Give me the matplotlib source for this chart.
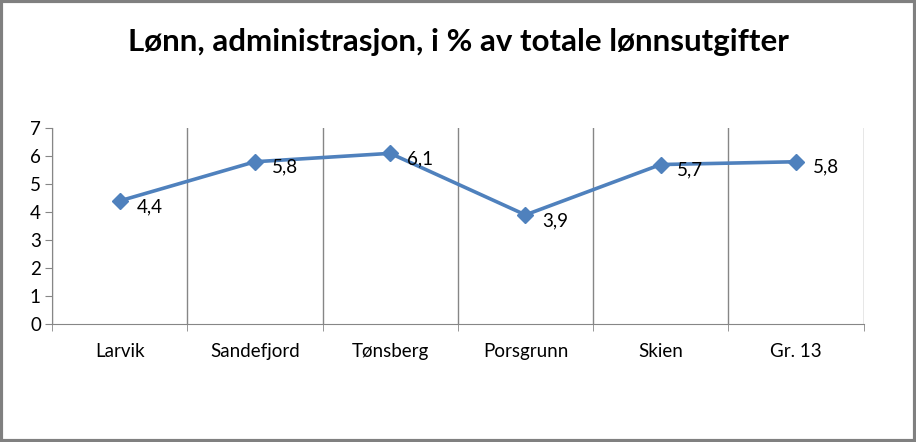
import numpy as np
import matplotlib.pyplot as plt
from matplotlib.patches import Rectangle

# data
kommuner = ["Larvik", "Sandefjord", "Tønsberg", "Porsgrunn", "Skien", "Gr. 13"]
andel = [4.4, 5.8, 6.1, 3.9, 5.7, 5.8]
tittel = "Lønn, administrasjon, i % av totale lønnsutgifter"

plt.rcParams['font.family'] = ['Lato', 'DejaVu Sans']

fig = plt.figure(figsize=(9.16, 4.42), dpi=100)
ax = fig.add_axes([0.0568, 0.267, 0.886, 0.443])

x = np.arange(len(kommuner))
ax.plot(x, andel, color="#4F81BD", linewidth=2.6, marker="D", markersize=8,
        markerfacecolor="#4F81BD", markeredgecolor="#4F81BD")
for xi, v in zip(x, andel):
    ax.annotate(str(v).replace(".", ","), (xi, v), xytext=(12, -4),
                textcoords="offset points", ha="left", va="center",
                fontsize=13.5, color="black")

ax.set_xlim(-0.5, len(kommuner) - 0.5)
ax.set_ylim(0, 7)
ax.set_yticks(range(0, 8))
ax.set_xticks(x)
ax.set_xticklabels(kommuner, fontsize=13.5)
ax.set_xticks(np.arange(-0.5, len(kommuner)), minor=True)
ax.tick_params(axis="x", which="major", length=0, pad=14)
ax.tick_params(axis="x", which="minor", length=5, color="#868686")
ax.tick_params(axis="y", length=5, color="#868686", labelsize=13.5, pad=3)
ax.grid(axis="x", which="minor", color="#868686", linewidth=1)
ax.set_axisbelow(True)

for s in ["top", "right"]:
    ax.spines[s].set_visible(False)
for s in ["left", "bottom"]:
    ax.spines[s].set_color("#868686")

fig.text(0.5, 0.905, tittel, ha="center", va="center", fontsize=22.5, fontweight="bold")

# ramme rundt figuren
fig.patches.append(Rectangle((0.0015, 0.003), 0.997, 0.994, transform=fig.transFigure,
                             fill=False, edgecolor="#808080", linewidth=3))

plt.savefig("out.png", dpi=100)
